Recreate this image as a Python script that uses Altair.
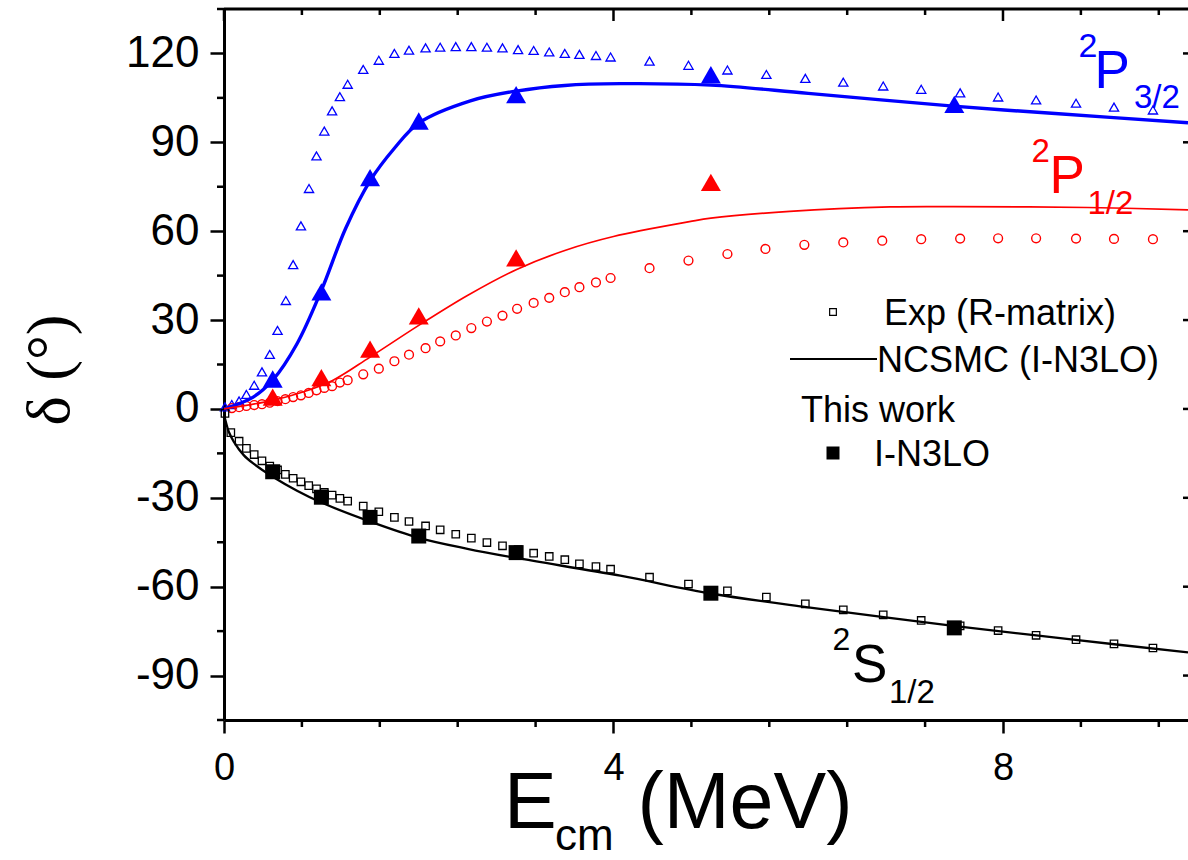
import altair as alt
import pandas as pd

# ---------------- data ----------------
# Exp (R-matrix), 2P3/2 : open blue triangles
exp_p32_E = [0.01, 0.08, 0.155, 0.23, 0.31, 0.39, 0.47, 0.55, 0.635, 0.71, 0.79, 0.873, 0.95,
             1.03, 1.11, 1.19, 1.27, 1.43, 1.59, 1.75, 1.90, 2.07, 2.22, 2.38, 2.54, 2.70,
             2.86, 3.02, 3.18, 3.34, 3.50, 3.65, 3.82, 3.97, 4.37, 4.77, 5.17, 5.57, 5.97,
             6.36, 6.77, 7.16, 7.56, 7.95, 8.34, 8.75, 9.14, 9.54]
exp_p32_d = [0.7, 1.5, 2.7, 4.9, 8.0, 12.5, 18.4, 26.5, 36.6, 48.7, 61.8, 74.4, 85.4,
             93.8, 100.6, 105.4, 109.6, 114.6, 117.7, 120.0, 121.1, 121.9, 122.1, 122.3, 122.3, 122.1,
             121.9, 121.3, 121.0, 120.5, 120.0, 119.7, 119.3, 118.8, 117.4, 116.0, 114.4, 112.9, 111.6,
             110.3, 109.0, 107.9, 106.7, 105.3, 104.3, 103.2, 101.9, 100.9]

# Exp (R-matrix), 2P1/2 : open red circles
exp_p12_E = [0.08, 0.155, 0.23, 0.31, 0.39, 0.47, 0.55, 0.63, 0.71, 0.79, 0.87, 0.95, 1.03,
             1.11, 1.19, 1.27, 1.43, 1.59, 1.75, 1.90, 2.07, 2.22, 2.38, 2.54, 2.70, 2.86,
             3.01, 3.18, 3.34, 3.50, 3.65, 3.82, 3.97, 4.37, 4.77, 5.17, 5.56, 5.96, 6.36,
             6.76, 7.16, 7.56, 7.95, 8.34, 8.75, 9.14, 9.54]
exp_p12_d = [0.3, 0.6, 1.0, 1.3, 1.6, 2.1, 2.6, 3.3, 4.0, 4.6, 5.4, 6.3, 7.1,
             7.7, 8.9, 9.7, 11.7, 13.6, 16.1, 18.3, 20.5, 22.8, 24.8, 27.3, 29.5, 31.5,
             33.8, 35.8, 37.5, 39.4, 41.1, 42.7, 44.2, 47.5, 50.1, 52.3, 54.0, 55.4, 56.2,
             56.8, 57.3, 57.5, 57.6, 57.6, 57.5, 57.4, 57.3]

# Exp (R-matrix), 2S1/2 : open black squares
exp_s12_E = [0.01, 0.07, 0.155, 0.23, 0.31, 0.39, 0.47, 0.55, 0.63, 0.71, 0.79, 0.87, 0.95,
             1.03, 1.11, 1.19, 1.27, 1.43, 1.59, 1.75, 1.90, 2.07, 2.22, 2.38, 2.54, 2.70,
             2.86, 3.02, 3.18, 3.34, 3.50, 3.65, 3.82, 3.97, 4.37, 4.77, 5.17, 5.57, 5.97,
             6.36, 6.77, 7.16, 7.56, 7.95, 8.34, 8.75, 9.14, 9.54]
exp_s12_d = [-1.5, -8.0, -10.9, -13.3, -15.4, -17.5, -19.3, -20.6, -22.1, -23.4, -24.6, -25.9, -27.0,
             -28.2, -29.1, -30.2, -31.1, -32.8, -34.7, -36.6, -38.0, -39.5, -40.8, -42.3, -43.6, -45.1,
             -46.2, -47.5, -48.7, -49.8, -50.9, -52.3, -53.2, -54.1, -56.8, -59.1, -61.4, -63.5, -65.8,
             -67.8, -69.5, -71.4, -73.2, -74.8, -76.4, -77.9, -79.3, -80.7]

# NCSMC (I-N3LO) curves
nc_p32_E = [0.0, 0.3, 0.5, 0.75, 1.0, 1.25, 1.5, 1.75, 2.0, 2.53, 3.0, 3.5, 4.07, 5.0, 6.0, 7.49, 8.5, 9.9]
nc_p32_d = [0.0, 4.0, 9.7, 22.0, 40.0, 61.0, 77.0, 88.0, 96.5, 104.0, 107.3, 109.2, 109.8, 109.3, 106.5, 102.2, 99.8, 96.6]

nc_p12_E = [0.0, 0.5, 0.81, 1.12, 1.5, 2.0, 2.5, 3.0, 3.5, 4.0, 4.78, 5.0, 5.81, 6.84, 7.49, 8.87, 9.9]
nc_p12_d = [0.0, 2.9, 5.7, 9.7, 17.5, 28.2, 38.3, 47.0, 53.5, 58.2, 63.2, 64.4, 66.7, 68.2, 68.3, 68.0, 67.2]

nc_s12_E = [0.0, 0.02, 0.05, 0.1, 0.2, 0.3, 0.5, 0.75, 1.0, 1.5, 2.0, 2.5, 3.0, 4.07, 5.0, 6.0, 7.49, 8.7, 9.9]
nc_s12_d = [-2.0, -4.5, -7.8, -11.0, -15.5, -18.4, -22.9, -27.6, -31.6, -38.0, -43.5, -47.2, -50.3, -56.3, -62.3, -67.0, -73.2, -77.8, -82.2]

# This work (I-N3LO)
work_E = [0.5, 1.0, 1.5, 2.0, 3.0, 5.0, 7.5]
work_p32 = [10.1, 39.5, 78.1, 97.2, 106.1, 112.8, 102.8]
work_p12_E = [0.5, 1.0, 1.5, 2.0, 3.0, 5.0]
work_p12 = [4.0, 10.6, 20.2, 31.4, 51.0, 76.5]
work_s12 = [-21.2, -29.8, -36.6, -42.9, -48.5, -62.2, -73.9]

# axis ticks
x_major = [0, 4, 8]
x_minor = [0.8, 1.6, 2.4, 3.2, 4.8, 5.6, 6.4, 7.2, 8.8, 9.6]
y_major = [-90, -60, -30, 0, 30, 60, 90, 120]
y_minor = [-105, -75, -45, -15, 15, 45, 75, 105, 135]

# ---------------- layout ----------------
W, H = 964, 711
FONT = "Liberation Sans"
INTERP = "catmull-rom"

xs = alt.Scale(domain=[0, 9.9], nice=False, zero=False)
ys = alt.Scale(domain=[-105, 135], nice=False, zero=False)

x_axis = alt.Axis(values=x_major, title=None, grid=False, tickSize=13, tickWidth=2.5,
                  tickColor="black", domainColor="black", domainWidth=3,
                  labelFontSize=38, labelFont=FONT, labelColor="black", labelPadding=16,
                  labelFlush=False, labelOverlap=False)
y_axis = alt.Axis(values=y_major, title=None, grid=False, tickSize=14, tickWidth=2.5,
                  tickColor="black", domainColor="black", domainWidth=3,
                  labelFontSize=44, labelFont=FONT, labelColor="black", labelPadding=11,
                  labelOverlap=False, labelExpr="'' + datum.value")


def X(field="E"):
    return alt.X(f"{field}:Q", scale=xs, axis=x_axis)


def Y(field="d"):
    return alt.Y(f"{field}:Q", scale=ys, axis=y_axis)


def df(E, d):
    return pd.DataFrame({"E": E, "d": d})


def text(t, x, y, size, color="black", font=FONT, align="left", baseline="alphabetic", angle=0):
    return alt.Chart(alt.Data(values=[{"t": t}])).mark_text(
        align=align, baseline=baseline, fontSize=size, font=font, color=color, angle=angle
    ).encode(x=alt.value(x), y=alt.value(y), text="t:N")


layers = []

# experimental open markers
layers.append(alt.Chart(df(exp_p32_E, exp_p32_d)).mark_point(
    shape="triangle-up", filled=False, size=85, strokeWidth=1.3, color="#0000ff", opacity=1
).encode(x=X(), y=Y()))
layers.append(alt.Chart(df(exp_p12_E, exp_p12_d)).mark_point(
    shape="circle", filled=False, size=78, strokeWidth=1.4, color="#ff0000", opacity=1
).encode(x=X(), y=Y()))
layers.append(alt.Chart(df(exp_s12_E, exp_s12_d)).mark_point(
    shape="square", filled=False, size=55, strokeWidth=1.3, color="black", opacity=1
).encode(x=X(), y=Y()))

# NCSMC lines
layers.append(alt.Chart(df(nc_p32_E, nc_p32_d)).mark_line(
    color="#0000ff", strokeWidth=3.4, interpolate=INTERP
).encode(x=X(), y=Y()))
layers.append(alt.Chart(df(nc_p12_E, nc_p12_d)).mark_line(
    color="#ff0000", strokeWidth=1.7, interpolate=INTERP
).encode(x=X(), y=Y()))
layers.append(alt.Chart(df(nc_s12_E, nc_s12_d)).mark_line(
    color="black", strokeWidth=2.3, interpolate=INTERP
).encode(x=X(), y=Y()))

# this work: filled markers
layers.append(alt.Chart(df(work_E, work_p32)).mark_point(
    shape="triangle-up", filled=True, size=400, color="#0000ff", opacity=1
).encode(x=X(), y=Y()))
layers.append(alt.Chart(df(work_p12_E, work_p12)).mark_point(
    shape="triangle-up", filled=True, size=400, color="#ff0000", opacity=1
).encode(x=X(), y=Y()))
layers.append(alt.Chart(df(work_E, work_s12)).mark_point(
    shape="square", filled=True, size=225, color="black", opacity=1
).encode(x=X(), y=Y()))

# frame: top line, inward top/right ticks, outward minor ticks
tick_style = dict(color="black", strokeWidth=2.5)
layers.append(alt.Chart(alt.Data(values=[{}])).mark_rule(color="black", strokeWidth=3).encode(
    x=alt.value(0), x2=alt.value(W), y=alt.value(0)))
layers.append(alt.Chart(pd.DataFrame({"v": x_major})).mark_rule(**tick_style).encode(
    x=alt.X("v:Q", scale=xs, axis=x_axis), y=alt.value(0), y2=alt.value(12)))
layers.append(alt.Chart(pd.DataFrame({"v": x_minor})).mark_rule(**tick_style).encode(
    x=alt.X("v:Q", scale=xs, axis=x_axis), y=alt.value(0), y2=alt.value(6)))
layers.append(alt.Chart(pd.DataFrame({"v": x_minor})).mark_rule(**tick_style).encode(
    x=alt.X("v:Q", scale=xs, axis=x_axis), y=alt.value(H), y2=alt.value(H + 7)))
layers.append(alt.Chart(pd.DataFrame({"v": y_minor})).mark_rule(**tick_style).encode(
    y=alt.Y("v:Q", scale=ys, axis=y_axis), x=alt.value(-7), x2=alt.value(0)))
layers.append(alt.Chart(pd.DataFrame({"v": y_major})).mark_rule(**tick_style).encode(
    y=alt.Y("v:Q", scale=ys, axis=y_axis), x=alt.value(W - 5), x2=alt.value(W)))

# state labels
BLUE, RED = "#0000ff", "#ff0000"
layers += [
    text("2", 854.5, 47.7, 34, BLUE), text("P", 870.5, 79.3, 53, BLUE), text("3/2", 910, 99, 33, BLUE),
    text("2", 807.5, 152.7, 33, RED), text("P", 825.5, 184.3, 53, RED), text("1/2", 863.5, 205, 33, RED),
    text("2", 608.5, 641, 32), text("S", 628, 673, 53), text("1/2", 665, 694, 33),
]

# legend
layers.append(alt.Chart(alt.Data(values=[{}])).mark_point(
    shape="square", filled=False, size=45, strokeWidth=1.2, color="black", opacity=1
).encode(x=alt.value(609), y=alt.value(303)))
layers.append(text("Exp (R-matrix)", 660, 315.5, 36))
layers.append(alt.Chart(alt.Data(values=[{}])).mark_rule(color="black", strokeWidth=2).encode(
    x=alt.value(566), x2=alt.value(653), y=alt.value(350)))
layers.append(text("NCSMC (I-N3LO)", 653, 362.5, 36))
layers.append(text("This work", 577, 413, 36))
layers.append(alt.Chart(alt.Data(values=[{}])).mark_point(
    shape="square", filled=True, size=169, color="black", opacity=1
).encode(x=alt.value(609), y=alt.value(444)))
layers.append(text("I-N3LO", 650, 456.5, 36))

# axis titles
layers += [
    text("E", 280, 819, 79), text("cm", 331, 841, 44), text("(MeV)", 413.5, 819, 79),
    text("δ (°)", -174, 361, 62, font="Liberation Serif", align="center", baseline="middle", angle=270),
]

chart = alt.layer(*layers).properties(
    width=W, height=H,
    autosize=alt.AutoSizeParams(type="none"),
    padding={"left": 224, "top": 9, "right": 0, "bottom": 140},
).configure_view(stroke=None).configure(background="white")

chart.save("out.html", embed_options={"renderer": "svg", "actions": False})
